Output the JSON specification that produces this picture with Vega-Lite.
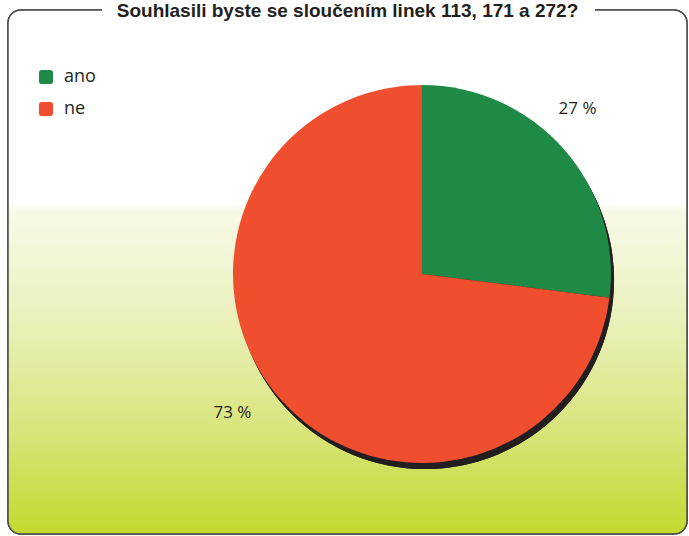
{
  "$schema": "https://vega.github.io/schema/vega-lite/v6.json",
  "width": 679,
  "height": 524,
  "autosize": "none",
  "padding": {"left": 8, "top": 10, "right": 2, "bottom": 2},
  "background": "white",
  "config": {"view": {"stroke": null}},
  "title": {
    "text": "Souhlasili byste se sloučením linek 113, 171 a 272?",
    "anchor": "middle",
    "frame": "group",
    "baseline": "alphabetic",
    "offset": 0,
    "dy": 27,
    "font": "Liberation Sans",
    "fontSize": 19,
    "fontWeight": "bold",
    "color": "#231f20"
  },
  "data": {
    "values": [
      {"odpoved": "ano", "podil": 27, "popisek": "27 %"},
      {"odpoved": "ne", "podil": 73, "popisek": "73 %"}
    ]
  },
  "layer": [
    {
      "mark": {
        "type": "rect",
        "cornerRadius": 13,
        "stroke": "#4a4a4a",
        "strokeWidth": 1.5,
        "strokeDash": [81, 493, 4000, 0],
        "fill": {
          "gradient": "linear",
          "x1": 0, "y1": 0, "x2": 0, "y2": 1,
          "stops": [
            {"offset": 0, "color": "#ffffff"},
            {"offset": 0.368, "color": "#ffffff"},
            {"offset": 0.382, "color": "#f8fae8"},
            {"offset": 0.6, "color": "#e9f0b8"},
            {"offset": 0.8, "color": "#d8e57c"},
            {"offset": 1, "color": "#c2d92e"}
          ]
        }
      },
      "encoding": {}
    },
    {
      "mark": {
        "type": "arc",
        "radius": 189,
        "fill": "#231f20",
        "x": {"expr": "width*0.6097+3"},
        "y": {"expr": "height/2+8"}
      },
      "encoding": {}
    },
    {
      "mark": {
        "type": "arc",
        "radius": 189,
        "x": {"expr": "width*0.6097"},
        "y": {"expr": "height/2+2"}
      },
      "encoding": {
        "theta": {"field": "podil", "type": "quantitative", "stack": true},
        "color": {
          "field": "odpoved",
          "type": "nominal",
          "sort": ["ano", "ne"],
          "scale": {"domain": ["ano", "ne"], "range": ["#1e8a45", "#f04f2f"]},
          "legend": {
            "title": null,
            "orient": "none",
            "legendX": 29,
            "legendY": 58,
            "symbolType": "M -0.6 -1 L 0.6 -1 Q 1 -1 1 -0.6 L 1 0.6 Q 1 1 0.6 1 L -0.6 1 Q -1 1 -1 0.6 L -1 -0.6 Q -1 -1 -0.6 -1 Z",
            "symbolSize": 196,
            "symbolStrokeWidth": 0,
            "labelFont": "Open Sans",
            "labelFontSize": 18,
            "labelColor": "#231f20",
            "labelOffset": 9,
            "rowPadding": 14
          }
        }
      }
    },
    {
      "mark": {
        "type": "text",
        "radius": 230,
        "x": {"expr": "width*0.6097-17"},
        "y": {"expr": "height/2-11"},
        "font": "Open Sans",
        "fontSize": 17,
        "color": "#231f20"
      },
      "encoding": {
        "theta": {"field": "podil", "type": "quantitative", "stack": true},
        "order": {"field": "odpoved"},
        "text": {"field": "popisek"}
      }
    }
  ]
}
